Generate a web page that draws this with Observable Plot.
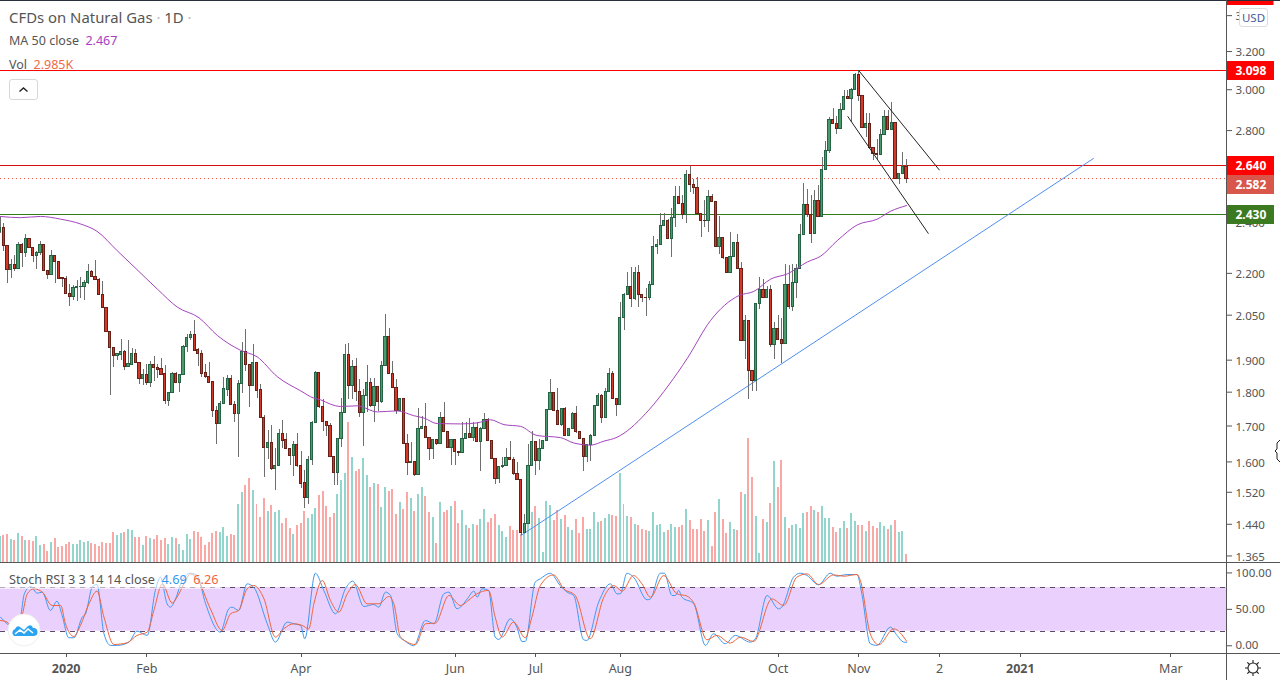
<!DOCTYPE html>
<html>
<head>
<meta charset="utf-8">
<script src="https://cdn.jsdelivr.net/npm/d3@7"></script>
<script src="https://cdn.jsdelivr.net/npm/@observablehq/plot@0.6"></script>
<style>
html,body{margin:0;padding:0;background:#fff;overflow:hidden}
#wrap{position:relative;width:1280px;height:680px;overflow:hidden;font-family:"Noto Sans",sans-serif;color:#555}
#wrap svg.panel,#wrap>div>svg{position:absolute;left:0;background:transparent}
.abs{position:absolute}
.line{position:absolute;background:#555}
.leg{position:absolute;white-space:pre;line-height:1}
</style>
</head>
<body>
<div id="wrap"></div>
<script>
const opens=[2.358,2.375,2.303,2.213,2.232,2.217,2.308,2.277,2.331,2.296,
2.265,2.277,2.308,2.209,2.194,2.265,2.243,2.183,2.179,2.125,
2.113,2.147,2.149,2.149,2.165,2.205,2.187,2.175,2.121,2.075,
1.994,1.938,1.914,1.918,1.928,1.879,1.886,1.921,1.892,1.839,
1.852,1.829,1.883,1.876,1.871,1.855,1.772,1.797,1.855,1.829,
1.852,1.944,1.971,1.981,1.932,1.921,1.858,1.848,1.830,1.743,
1.705,1.763,1.808,1.840,1.761,1.735,1.824,1.928,1.883,1.820,
1.892,1.806,1.723,1.638,1.652,1.581,1.590,1.677,1.659,1.636,
1.616,1.647,1.590,1.543,1.506,1.606,1.709,1.860,1.755,1.712,
1.699,1.613,1.569,1.664,1.738,1.918,1.820,1.877,1.802,1.738,
1.787,1.827,1.757,1.817,1.770,1.880,1.977,1.855,1.812,1.745,
1.779,1.650,1.598,1.601,1.566,1.692,1.697,1.667,1.635,1.661,
1.649,1.723,1.683,1.638,1.661,1.628,1.625,1.664,1.678,1.667,
1.695,1.654,1.692,1.717,1.658,1.609,1.555,1.585,1.590,1.611,
1.606,1.567,1.551,1.419,1.441,1.590,1.655,1.603,1.636,1.658,
1.746,1.797,1.743,1.703,1.749,1.671,1.692,1.735,1.683,1.664,
1.614,1.647,1.672,1.758,1.788,1.723,1.800,1.855,1.779,1.760,
2.041,2.121,2.151,2.106,2.201,2.121,2.112,2.111,2.158,2.301,
2.308,2.383,2.403,2.331,2.415,2.503,2.474,2.429,2.599,2.554,
2.541,2.432,2.405,2.403,2.503,2.482,2.301,2.335,2.257,2.201,
2.261,2.316,2.217,1.964,2.031,1.865,1.834,2.089,2.139,2.111,
2.139,1.948,2.003,1.967,1.954,2.158,2.078,2.165,2.217,2.347,
2.470,2.428,2.351,2.487,2.419,2.620,2.705,2.851,2.832,2.808,
2.899,2.964,2.952,3.000,3.078,2.969,2.811,2.832,2.719,2.692,
2.686,2.779,2.866,2.804,2.836,2.580,2.601,2.635];
const closes=[2.375,2.303,2.213,2.232,2.217,2.308,2.277,2.331,2.296,2.264,
2.277,2.308,2.209,2.194,2.265,2.243,2.181,2.178,2.125,2.113,
2.147,2.151,2.151,2.165,2.205,2.187,2.174,2.120,2.075,1.994,
1.938,1.914,1.919,1.928,1.879,1.887,1.921,1.892,1.840,1.852,
1.829,1.883,1.876,1.869,1.854,1.772,1.797,1.855,1.829,1.852,
1.944,1.971,1.982,1.930,1.920,1.857,1.848,1.829,1.743,1.705,
1.764,1.809,1.840,1.761,1.735,1.824,1.928,1.883,1.820,1.892,
1.805,1.723,1.638,1.652,1.581,1.590,1.677,1.658,1.636,1.616,
1.647,1.589,1.542,1.506,1.606,1.709,1.860,1.755,1.712,1.699,
1.613,1.569,1.664,1.738,1.918,1.820,1.877,1.802,1.738,1.787,
1.827,1.757,1.817,1.770,1.880,1.977,1.855,1.812,1.745,1.779,
1.650,1.598,1.601,1.566,1.692,1.697,1.667,1.635,1.661,1.649,
1.723,1.683,1.638,1.661,1.627,1.625,1.664,1.678,1.667,1.695,
1.654,1.692,1.717,1.658,1.609,1.555,1.585,1.590,1.611,1.605,
1.567,1.551,1.419,1.441,1.590,1.655,1.603,1.636,1.658,1.746,
1.797,1.743,1.703,1.749,1.671,1.692,1.735,1.683,1.664,1.614,
1.647,1.672,1.758,1.788,1.723,1.800,1.855,1.779,1.761,2.041,
2.121,2.151,2.106,2.201,2.121,2.112,2.110,2.158,2.301,2.308,
2.383,2.403,2.331,2.415,2.503,2.474,2.429,2.599,2.554,2.541,
2.432,2.403,2.402,2.503,2.482,2.301,2.335,2.257,2.201,2.261,
2.316,2.217,1.964,2.031,1.865,1.834,2.089,2.139,2.111,2.139,
1.948,2.003,1.967,1.954,2.158,2.078,2.165,2.217,2.347,2.470,
2.428,2.351,2.487,2.419,2.620,2.705,2.851,2.832,2.808,2.899,
2.964,2.952,3.000,3.078,2.967,2.811,2.832,2.719,2.690,2.686,
2.779,2.866,2.804,2.836,2.580,2.602,2.635,2.582];
const highs=[2.418,2.394,2.303,2.254,2.269,2.316,2.312,2.351,2.335,2.296,
2.283,2.320,2.308,2.209,2.285,2.269,2.243,2.183,2.188,2.159,
2.155,2.173,2.183,2.173,2.232,2.210,2.250,2.181,2.169,2.075,
1.994,1.938,1.919,1.967,1.930,1.965,1.938,1.934,1.894,1.869,
1.887,1.897,1.911,1.887,1.905,1.884,1.799,1.861,1.861,1.856,
1.948,1.984,1.993,2.032,1.938,1.930,1.886,1.892,1.832,1.757,
1.772,1.844,1.850,1.850,1.772,1.835,1.958,2.000,1.883,1.952,
1.892,1.822,1.730,1.687,1.701,1.638,1.690,1.716,1.678,1.636,
1.656,1.678,1.628,1.577,1.614,1.714,1.864,1.860,1.779,1.712,
1.706,1.613,1.664,1.782,1.952,1.954,1.900,1.905,1.838,1.807,
1.884,1.843,1.843,1.817,1.897,2.052,2.003,1.897,1.838,1.779,
1.782,1.677,1.652,1.601,1.750,1.728,1.765,1.667,1.662,1.661,
1.738,1.770,1.683,1.661,1.661,1.628,1.709,1.709,1.723,1.709,
1.709,1.695,1.736,1.723,1.658,1.609,1.585,1.611,1.638,1.655,
1.611,1.598,1.551,1.464,1.648,1.685,1.655,1.662,1.658,1.746,
1.838,1.797,1.812,1.749,1.754,1.692,1.738,1.757,1.683,1.664,
1.647,1.675,1.758,1.797,1.792,1.812,1.874,1.863,1.779,2.093,
2.125,2.204,2.223,2.223,2.229,2.121,2.143,2.171,2.340,2.331,
2.436,2.436,2.411,2.453,2.547,2.547,2.509,2.617,2.635,2.580,
2.585,2.432,2.488,2.530,2.512,2.483,2.421,2.335,2.260,2.356,
2.316,2.351,2.239,2.049,2.032,1.865,2.089,2.185,2.179,2.151,
2.155,2.024,2.049,2.037,2.233,2.229,2.235,2.233,2.391,2.559,
2.533,2.509,2.530,2.552,2.674,2.748,2.864,2.907,2.868,2.929,
2.997,2.997,3.006,3.085,3.098,2.970,2.880,2.880,2.719,2.760,
2.806,2.899,2.895,2.937,2.836,2.602,2.696,2.667];
const lows=[2.353,2.284,2.162,2.181,2.208,2.217,2.223,2.260,2.295,2.239,
2.214,2.266,2.206,2.176,2.194,2.163,2.179,2.149,2.123,2.081,
2.101,2.097,2.107,2.101,2.159,2.183,2.173,2.119,2.074,1.992,
1.790,1.876,1.900,1.900,1.866,1.876,1.884,1.890,1.822,1.820,
1.820,1.813,1.833,1.843,1.853,1.762,1.757,1.795,1.827,1.799,
1.851,1.926,1.965,1.929,1.879,1.846,1.843,1.827,1.725,1.648,
1.704,1.762,1.788,1.760,1.709,1.613,1.795,1.863,1.754,1.817,
1.780,1.722,1.558,1.607,1.576,1.524,1.589,1.636,1.634,1.589,
1.560,1.585,1.531,1.478,1.488,1.589,1.707,1.752,1.685,1.671,
1.611,1.537,1.537,1.640,1.738,1.777,1.777,1.772,1.725,1.643,
1.738,1.755,1.711,1.743,1.767,1.879,1.855,1.810,1.733,1.744,
1.649,1.563,1.598,1.560,1.566,1.692,1.665,1.605,1.607,1.646,
1.648,1.682,1.637,1.589,1.589,1.616,1.623,1.662,1.665,1.657,
1.652,1.573,1.690,1.657,1.607,1.539,1.543,1.583,1.589,1.604,
1.565,1.550,1.413,1.417,1.439,1.589,1.563,1.578,1.634,1.657,
1.745,1.742,1.701,1.699,1.669,1.669,1.690,1.680,1.662,1.573,
1.598,1.600,1.671,1.757,1.707,1.721,1.799,1.777,1.728,1.759,
1.998,2.120,2.078,2.101,2.075,2.095,2.046,2.101,2.156,2.273,
2.306,2.381,2.329,2.260,2.378,2.471,2.411,2.394,2.523,2.512,
2.429,2.338,2.378,2.358,2.481,2.299,2.270,2.254,2.198,2.199,
2.260,2.214,1.962,1.902,1.779,1.802,1.802,2.068,2.110,2.111,
1.941,1.902,1.965,1.889,1.952,2.068,2.064,2.107,2.214,2.345,
2.418,2.312,2.348,2.418,2.418,2.617,2.695,2.832,2.781,2.806,
2.895,2.949,2.840,2.997,2.942,2.808,2.769,2.714,2.662,2.662,
2.685,2.776,2.801,2.801,2.578,2.555,2.600,2.562];
const volumesK=[10.0,10.4,10.8,8.8,8.5,11.2,10.0,8.5,8.5,8.1,
10.0,6.5,6.9,4.2,7.7,9.2,5.7,6.1,6.9,7.7,
6.9,6.9,8.5,7.7,8.1,7.3,6.9,6.1,7.7,7.3,
7.3,11.6,10.4,11.2,11.6,12.7,12.4,9.6,9.6,6.5,
10.0,9.2,8.8,10.4,8.5,9.2,6.9,9.6,9.2,6.9,
4.6,10.8,8.8,12.0,11.6,9.6,6.5,7.7,11.2,12.0,
11.6,13.5,10.0,10.8,10.4,22.5,27.2,29.9,32.6,28.0,
22.5,17.4,24.8,19.8,22.1,19.4,20.2,15.1,17.0,13.1,
10.8,14.3,15.1,19.8,17.0,18.6,20.9,26.0,27.6,21.7,
17.4,19.0,26.4,31.9,34.6,54.5,40.8,35.4,36.1,40.4,
33.8,29.1,30.7,30.3,21.3,29.1,27.6,28.3,18.6,23.3,
20.5,27.2,24.8,19.8,26.4,29.1,25.6,19.4,17.4,7.3,
23.3,19.4,20.2,21.7,23.7,15.1,20.2,14.3,13.1,14.7,
14.3,16.6,20.5,15.5,17.0,18.6,14.3,12.0,9.6,13.9,
12.4,12.4,10.8,15.1,14.7,19.4,21.7,17.0,3.8,23.7,
22.1,16.3,20.2,16.6,18.2,13.5,12.4,16.6,11.2,17.4,
12.7,12.7,19.4,15.5,15.9,17.0,18.6,18.2,17.8,34.6,
22.5,17.8,17.4,14.7,14.3,12.7,12.4,12.0,19.4,14.3,
14.7,11.6,12.4,14.7,13.5,13.5,14.3,20.5,16.3,12.7,
12.7,16.6,12.0,16.3,6.1,19.4,24.4,16.6,11.2,15.5,
12.7,12.4,27.2,26.4,48.2,33.0,17.8,3.4,16.6,15.5,
22.9,39.3,29.1,39.7,17.4,13.1,14.3,14.7,13.1,19.0,
19.4,21.7,20.2,19.4,21.7,17.0,17.0,13.5,11.6,13.1,
15.9,13.1,19.0,15.9,14.3,14.3,12.0,15.9,13.9,13.1,
15.5,13.9,12.7,14.3,16.3,11.6,12.0,2.985];
const maBars=[0,5.6,11,16.5,22,26.4,31.9,37.3,42.8,48.3,54.2,59.2,65.5,70,75.5,81.9,85.5,87.3,90,92.8,97.3,102.8,108.2,112.7,115.5,119.1,125.4,130,133.6,137.3,141.8,146.3,152.7,156.3,160.9,164.5,168.1,169,176.8,182.2,187.2,193.6,201.3,205.4,210,214.5,220,223.6,228.1,233.6,239,242.6,247];
const maValues=[2.422,2.417,2.422,2.411,2.391,2.362,2.286,2.214,2.143,2.078,2.041,1.981,1.932,1.911,1.848,1.804,1.782,1.777,1.764,1.757,1.759,1.741,1.744,1.730,1.723,1.707,1.706,1.709,1.718,1.704,1.699,1.673,1.667,1.652,1.646,1.657,1.668,1.673,1.747,1.822,1.905,2.032,2.119,2.134,2.179,2.198,2.243,2.265,2.325,2.388,2.411,2.443,2.467];
const kBars=[0.1,1.9,4.7,5.6,6.6,8.3,10.1,11.5,13.7,15.5,16.9,18.7,20.1,22.4,23.3,25.1,26.4,28.3,30.1,31.9,35.1,37.3,40.1,42.3,43.7,45.5,46.4,47.8,49.6,51.9,53.7,56,60,62.3,63.2,65,67.3,69.1,72.8,75,78.2,80,81.9,83,85.9,88.2,91.4,94.1,96.1,99.1,101.8,103.2,105,106.4,108.2,110.5,112.7,115.9,118.2,120.9,122.3,124.5,125.4,127.3,129.1,130,131.3,133.1,134.9,135.9,139,140.8,142.2,143.1,145.8,147.2,149.9,152.6,154.5,156.3,159,159.9,163.1,166.3,168.1,169,170.8,172.6,176.3,177.2,179.9,181,183.1,184,184.9,185.8,189,192.2,194.4,197.6,200.3,204.4,205.8,209,212.1,213,216.2,218,219.9,223,226.2,228,230.8,233.5,234.8,237.1,238.9,242.6,244.4,246.2,247];
const kValues=[39.3,30.2,21,39.3,71.3,81.4,72.2,73.6,48.5,61.2,41.6,11,11,39.3,43.9,80.4,84.1,16.5,0.5,0.5,5,20.1,14.2,75.9,94.2,57.6,53,64.4,89.6,99.6,96.4,57.6,18.7,50.7,53,48.5,85,80.4,30.2,5,32.5,30.2,27.9,9.6,99.6,75.9,43.9,78.2,88.7,53.9,56.7,53,73.6,69,16.5,5.9,0,34.7,30.2,71.3,73.6,50.7,53,64.4,75,66.7,78.2,75.9,11.9,8.7,37,25.6,5.9,5.9,87.3,91.9,99.6,82.7,73.6,69,8.2,7.3,59.9,85,71.3,71.3,99.6,94.2,63.1,64.4,99.6,99.6,69,69,75.9,66.7,57.6,0.5,16.5,2.8,14.2,5,9.6,69,50.7,53,94.2,99.6,96.4,83.6,99.6,95.5,97.8,97.8,71.3,2.8,0.5,25.6,14.2,5,4.69];
const dBars=[0.1,1.9,3.7,6,7.4,9.2,11.5,14.2,16.5,17.8,20.1,21.9,24.2,26.4,28.3,31,34.6,37.3,40.1,41.9,44.2,46.9,48.2,50.1,51.9,53.7,57.3,60.5,62.8,65,67.3,69.1,71.9,75,77.3,80,82.3,84.1,85.5,87.8,90,92.3,94.6,96.8,100,103.2,105.9,107.3,109.1,113.2,115.9,118.6,122.3,125.4,128.1,129.9,133.1,134.9,136.8,139.9,143.1,144.9,147.2,150.8,153.6,156.7,160.8,164.5,167.2,169.5,172.6,174.9,177.2,180.8,184.4,187.2,189,192.6,195.3,199,201.7,205.3,210.3,213.5,217.1,219.9,223,227.1,229.9,233.5,234.4,237.1,239.4,243.5,247];
const dValues=[34.7,32.5,21,41.6,71.3,78.2,73.6,55.3,55.3,30.2,12.8,27.9,57.6,75,39.3,1.8,4.1,14.2,18.7,48.5,85,58.5,66.7,85,98.7,91.9,50.7,21,43.9,48.5,78.2,82.7,64.4,11.9,23.3,30.2,27.9,23.3,57.6,89.6,62.2,46.2,71.3,84.1,57.6,57.6,67.6,57.6,11.9,1.8,30.2,31.1,69,55.3,64.4,71.3,75.9,39.3,11.9,32.5,11,39.3,82.7,97.3,78.2,69,9.6,66.7,82.7,75,96.4,85,66.7,96.4,71.3,68.1,59,8.2,14.2,3.7,11.9,5.9,64.4,55.3,94.2,98.7,84.1,97.3,95.5,97.8,89.6,16.5,1.4,23.3,6.26];
const priceTicks=[3.4,3.2,3.0,2.8,2.4,2.2,2.05,1.9,1.8,1.7,1.6,1.52,1.44,1.365];
const stochTicks=[100,50,0];
const timeTickBars=[18,40,82,124,146,169,212,234,256,278,319];
const timeTickLabels=["2020","Feb","Apr","Jun","Jul","Aug","Oct","Nov","2","2021","Mar"];
const trendBlue={bars:[141.9,297.9],prices:[1.413,2.671]};
const channelUpper={bars:[234,255.9],prices:[3.098,2.620]};
const channelLower={bars:[231,252.9],prices:[2.867,2.354]};
const levelTagPrices=[3.098,2.640,2.430,2.582];
const levelTagColors=["#ff0000","#ff0000","#3c7a22","#d9574a"];
const levelTagOffsets=[0,0,0,6];

const UP="#4a9a6c",UPB="#246444",DN="#cf3a2a",DNB="#681f15",WICK="#6e6e6e";
const font='"Noto Sans",sans-serif';
const idx=d3.range(opens.length);
const isUp=i=>closes[i]>=opens[i];
const W=1280,MR=54,xMin=0.4/3.67,xMax=1226.4/3.67;
const xOpt={domain:[xMin,xMax],axis:null};
const baseStyle={background:"transparent",fontFamily:font,fontSize:"12px",color:"#555"};
const pts=(b,v)=>b.map((x,i)=>({x,y:v[i]}));
const wrap=document.getElementById("wrap");
const tagEnd=xMax+47/3.67;

const volPlot=Plot.plot({width:W,height:562,marginLeft:0,marginRight:MR,marginTop:0,marginBottom:0,
  style:baseStyle,x:xOpt,y:{domain:[0,219],range:[561.7,0],axis:null},color:{type:"identity"},
  marks:[Plot.rect(idx,{x1:d=>d-0.27,x2:d=>d+0.27,y1:()=>0,y2:d=>volumesK[d],fill:d=>isUp(d)?"#92d5cd":"#f9a8a6",shapeRendering:"crispEdges"})]});

const pricePlot=Plot.plot({width:W,height:562,marginLeft:0,marginRight:MR,marginTop:0,marginBottom:0,
  style:baseStyle,x:xOpt,y:{type:"log",domain:[1.35,3.488],range:[562,0]},color:{type:"identity"},
  marks:[
    Plot.axisY(priceTicks,{anchor:"right",label:null,tickSize:5,tickFormat:()=>"",color:"#555"}),
    Plot.text(priceTicks,{x:xMax,y:d=>d,text:d=>d.toFixed(3),textAnchor:"start",dx:9,dy:1,fontSize:11.5,fill:"#555"}),
    Plot.ruleY([3.098],{x1:xMin,x2:xMax,stroke:"#ff0000",strokeWidth:1,shapeRendering:"crispEdges"}),
    Plot.ruleY([2.640],{x1:xMin,x2:xMax,stroke:"#d81010",strokeWidth:1,shapeRendering:"crispEdges"}),
    Plot.ruleY([2.582],{x1:xMin,x2:xMax,stroke:"#e8503f",strokeWidth:1,strokeDasharray:"1,3"}),
    Plot.ruleY([2.430],{x1:xMin,x2:xMax,stroke:"#2f7a1a",strokeWidth:1,shapeRendering:"crispEdges"}),
    Plot.line(pts(trendBlue.bars,trendBlue.prices),{x:"x",y:"y",stroke:"#4f8ff0",strokeWidth:1}),
    Plot.ruleX(idx,{x:d=>d,y1:d=>lows[d],y2:d=>highs[d],stroke:WICK,strokeWidth:1,shapeRendering:"crispEdges"}),
    Plot.rect(idx,{x1:d=>d-0.3,x2:d=>d+0.3,y1:d=>opens[d],y2:d=>closes[d],fill:d=>isUp(d)?UP:DN,stroke:d=>isUp(d)?UPB:DNB,strokeWidth:1,shapeRendering:"crispEdges"}),
    Plot.line(pts(maBars,maValues),{x:"x",y:"y",stroke:"#a444be",strokeWidth:1,curve:"monotone-x"}),
    Plot.line(pts(channelUpper.bars,channelUpper.prices),{x:"x",y:"y",stroke:"#222",strokeWidth:1}),
    Plot.line(pts(channelLower.bars,channelLower.prices),{x:"x",y:"y",stroke:"#222",strokeWidth:1}),
    Plot.link([3.517],{x1:xMax,x2:tagEnd,y1:d=>d,y2:d=>d,stroke:"#ff0000",strokeWidth:19}),
    ...levelTagPrices.map((p,i)=>Plot.link([p],{x1:xMax,x2:tagEnd,y1:d=>d,y2:d=>d,stroke:levelTagColors[i],strokeWidth:19,dy:levelTagOffsets[i],shapeRendering:"crispEdges"})),
    ...levelTagPrices.map((p,i)=>Plot.text([p],{x:xMax,y:d=>d,text:d=>d.toFixed(3),fill:"#fff",fontWeight:"bold",fontSize:12,textAnchor:"start",dx:9,dy:levelTagOffsets[i]+0.5}))
  ]});

const stochPlot=Plot.plot({width:W,height:118,marginLeft:0,marginRight:MR,marginTop:0,marginBottom:27,
  style:baseStyle,x:xOpt,y:{domain:[-10.6,114.3],axis:null},color:{type:"identity"},
  marks:[
    Plot.rectY([0],{x1:xMin,x2:xMax,y1:20,y2:80,fill:"#e9d0fd"}),
    Plot.ruleY([20,80],{x1:xMin,x2:xMax,stroke:"#5a4a66",strokeWidth:1,strokeDasharray:"5,5",shapeRendering:"crispEdges"}),
    Plot.axisY(stochTicks,{anchor:"right",label:null,tickSize:5,tickPadding:4,fontSize:11.5,color:"#555",tickFormat:d=>d.toFixed(2)}),
    Plot.line(pts(kBars,kValues),{x:"x",y:"y",stroke:"#3f9af0",strokeWidth:1,curve:"monotone-x"}),
    Plot.line(pts(dBars,dValues),{x:"x",y:"y",stroke:"#f0653c",strokeWidth:1,curve:"monotone-x"}),
    Plot.ruleX(timeTickBars,{x:d=>d,y1:-10.6,y2:-15.5,stroke:"#555",strokeWidth:1,shapeRendering:"crispEdges"}),
    Plot.text(timeTickBars.map((d,i)=>i).filter(i=>!/^20/.test(timeTickLabels[i])),{x:i=>timeTickBars[i],y:-10.6,text:i=>timeTickLabels[i],dy:15,fontSize:12.5,fill:"#555"}),
    Plot.text(timeTickBars.map((d,i)=>i).filter(i=>/^20/.test(timeTickLabels[i])),{x:i=>timeTickBars[i],y:-10.6,text:i=>timeTickLabels[i],dy:15,fontSize:12.5,fontWeight:"bold",fill:"#555"})
  ]});

function place(node,top){
  const holder=document.createElement("div");
  holder.className="abs";holder.style.cssText=`left:0;top:${top}px;width:1280px;`;
  node.style.position="absolute";node.style.top="0";node.style.left="0";
  holder.appendChild(node);wrap.appendChild(holder);
}
place(volPlot,0);place(pricePlot,0);place(stochPlot,562);

wrap.insertAdjacentHTML("beforeend",`
<div class="line" style="left:0;top:0;width:1280px;height:1px;background:#2a2e39"></div>
<div class="line" style="left:0;top:562px;width:1280px;height:1px"></div>
<div class="line" style="left:0;top:653px;width:1280px;height:1px"></div>
<div class="line" style="left:1226px;top:0;width:1px;height:680px"></div>
<div class="leg" style="left:9px;top:10px;font-size:14.9px;color:#555">CFDs on Natural Gas <span style="color:#bbb">·</span> 1D <span style="color:#bbb">·</span></div>
<div class="leg" style="left:9px;top:35px;font-size:12.5px;color:#555">MA 50 close  <span style="color:#a83ec0">2.467</span></div>
<div class="leg" style="left:9px;top:59px;font-size:12.5px;color:#555">Vol  <span style="color:#ef6a48">2.985K</span></div>
<div class="abs" style="left:9px;top:79px;width:27px;height:19px;border:1px solid #d8d8d8;border-radius:3px;background:#fff">
  <svg width="27" height="19" style="position:absolute;left:0;top:0"><path d="M9.5 11.5 L13.5 8 L17.5 11.5" fill="none" stroke="#222" stroke-width="1.4"/></svg></div>
<div class="abs" style="left:1239px;top:8px;width:27px;height:17px;border:1px solid #ddd;border-radius:3px;background:#fff;color:#4a5a9a;font-size:11.5px;line-height:17px;text-align:center">USD</div>
<div class="leg" style="left:0;top:570px;padding:3px 3px 3px 9px;font-size:12.7px;color:#555;background:rgba(255,255,255,.55)">Stoch RSI 3 3 14 14 close  <span style="color:#2f9bf0">4.69</span>  <span style="color:#f0653c">6.26</span></div>
<svg class="abs" style="left:7px;top:613px" width="34" height="34"><circle cx="17" cy="17" r="16" fill="#fff" stroke="#eee"/><path d="M7 23 a4 4 0 0 1 1-7 q2-4 5-2 l4 3 4-4 q4-2 5 2 a4 4 0 0 1 1 8 z" fill="#2aa3f0"/><path d="M8 21 l5-4 4 3 4-4 5 4" fill="none" stroke="#fff" stroke-width="1.6"/></svg>
<svg class="abs" style="left:1243px;top:658px" width="20" height="20"><circle cx="10" cy="10" r="5" fill="none" stroke="#222" stroke-width="1.1"/><path d="M10 2v3M10 15v3M2 10h3M15 10h3M4.3 4.3l2.2 2.2M13.5 13.5l2.2 2.2M4.3 15.7l2.2-2.2M13.5 6.5l2.2-2.2" stroke="#222" stroke-width="1.1"/></svg>
<svg class="abs" style="left:1274px;top:439px" width="6" height="24"><path d="M6 1 L3 4 L3 10 L1 12 L3 14 L3 20 L6 23" fill="#fff" stroke="#222" stroke-width="1"/></svg>
`);
</script>
</body>
</html>
